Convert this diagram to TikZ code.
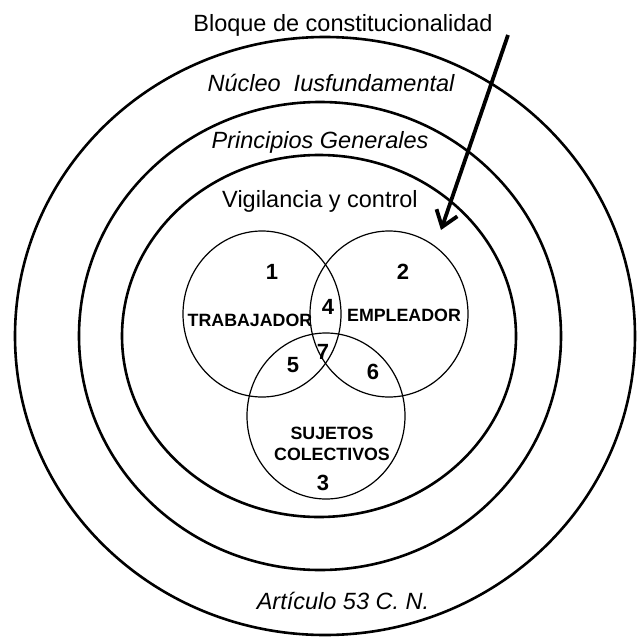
\documentclass[tikz,border=0pt]{standalone}
\usepackage{fontspec}
\setmainfont{Liberation Sans}
\usetikzlibrary{arrows.meta}

\begin{document}
\begin{tikzpicture}[x=1pt, y=-1pt,
    ring/.style={line width=2.6pt},
    venn/.style={line width=1.2pt},
    big/.style={font=\fontsize{23.5}{28}\selectfont, anchor=base, inner sep=0pt},
    bigit/.style={big, font=\fontsize{23.5}{28}\selectfont\itshape},
    setname/.style={font=\fontsize{17.8}{21}\selectfont\bfseries, align=center, inner sep=0pt},
    num/.style={font=\fontsize{22}{25}\selectfont\bfseries, inner sep=0pt}]
    \useasboundingbox (0,0) rectangle (640,637);

    % levels of the block
    \draw[ring] (325,336) ellipse [x radius=310pt, y radius=299pt];
    \draw[ring] (320,336) ellipse [x radius=241pt, y radius=234pt];
    \draw[ring] (319,336) ellipse [x radius=197pt, y radius=181pt];

    % subjects
    \draw[venn] (262,314) ellipse [x radius=79pt, y radius=83pt];
    \draw[venn] (389,314) ellipse [x radius=79pt, y radius=83pt];
    \draw[venn] (326,416) ellipse [x radius=79pt, y radius=83pt];

    \node at (343,31.5) [big] (Bloque) {Bloque de constitucionalidad};
    \node at (331,91.5) [bigit] (Nucleo) {Núcleo\ \ Iusfundamental};
    \node at (320,148) [bigit] (Principios) {Principios Generales};
    \node at (320,207) [big] (Vigilancia) {Vigilancia y control};
    \node at (343,609) [bigit] (Articulo) {Artículo 53 C. N.};

    \node at (250,320) [setname] (Trabajador) {TRABAJADOR};
    \node at (404,315) [setname] (Empleador) {EMPLEADOR};
    \node at (332,444) [setname] (Sujetos) {SUJETOS\\COLECTIVOS};

    \node at (272,272) [num] (n1) {1};
    \node at (403,272) [num] (n2) {2};
    \node at (323,483) [num] (n3) {3};
    \node at (328,307) [num] (n4) {4};
    \node at (293,365) [num] (n5) {5};
    \node at (373,372) [num] (n6) {6};
    \node at (323,352) [num] (n7) {7};

    \coordinate (ArrowStart) at (508,35);
    \coordinate (ArrowTip) at (441,230);
    \draw[line width=3.8pt, -{Straight Barb[length=15pt, width=22pt, line width=3.8pt]}] (ArrowStart) -- (ArrowTip);
\end{tikzpicture}
\end{document}
